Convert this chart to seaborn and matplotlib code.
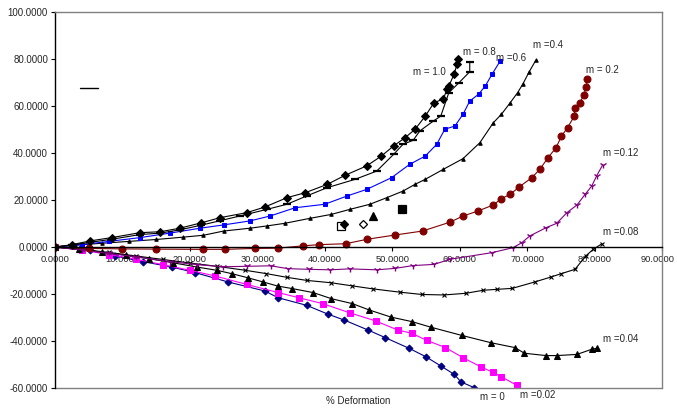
import matplotlib
matplotlib.use("Agg")
import matplotlib.pyplot as plt
from matplotlib.lines import Line2D
from matplotlib.ticker import FormatStrFormatter, MultipleLocator
from matplotlib.transforms import ScaledTranslation
import seaborn as sns

# Ring-compression calibration curves: % change in internal diameter vs % deformation
m0_x = [0, 5.2, 8.9, 13.0, 17.3, 20.8, 25.7, 31.1, 33.1, 37.3, 40.5, 42.9, 46.4, 49.0, 52.5, 55.0, 57.2, 59.2, 60.2, 62.2]
m0_y = [0, -1.3, -3.8, -6.2, -8.5, -10.9, -14.9, -18.7, -21.6, -24.8, -28.6, -31.1, -35.3, -38.6, -43.1, -46.7, -50.6, -54.2, -57.4, -59.9]

m002_x = [0, 4, 8, 12, 16, 20, 23.7, 28.4, 33.1, 36.2, 39.7, 43.7, 47.6, 50.8, 52.9, 55.1, 57.9, 60.5, 63.1, 64.9, 66.2, 68.5]
m002_y = [0, -1.3, -3.2, -5.2, -7.5, -9.9, -12.3, -15.9, -19.4, -21.6, -24.1, -28.0, -31.5, -35.3, -36.7, -39.7, -42.8, -47.1, -50.9, -53.3, -55.2, -58.9]

m004_x = [0, 3.5, 7, 10.6, 14, 17.5, 21.0, 24.0, 26.3, 28.6, 30.9, 33.0, 35.2, 38.3, 41.0, 44.1, 46.6, 49.8, 53.0, 55.7, 60.3, 64.6, 68.2, 69.6, 72.8, 74.4, 77.4, 79.6, 80.3]
m004_y = [0, -1.0, -2.2, -3.5, -5.0, -6.7, -8.5, -9.9, -11.4, -13.1, -14.9, -16.6, -17.7, -19.4, -22.0, -24.1, -26.8, -29.8, -31.8, -34.1, -37.6, -40.7, -42.8, -45.2, -46.2, -46.2, -45.7, -43.5, -43.1]

m008_x = [0, 4, 8, 12, 16, 20, 24, 28.2, 31.3, 34.4, 37.3, 40.9, 44.0, 47.1, 51.1, 54.4, 57.7, 60.9, 63.5, 65.6, 67.8, 71.1, 73.5, 75.0, 77.1, 78.7, 79.8, 81.1]
m008_y = [0, -1.0, -2.3, -3.8, -5.3, -6.8, -8.2, -9.9, -11.3, -12.9, -14.2, -15.2, -16.5, -17.8, -19.2, -20.2, -20.4, -19.7, -18.4, -18.0, -17.6, -14.9, -12.8, -11.4, -9.5, -3.8, -1.0, 1.4]

m012_x = [0, 4, 8, 12, 17, 21, 24.9, 28.5, 32.0, 34.5, 37.7, 40.8, 43.7, 47.7, 50.4, 53.1, 56.2, 58.6, 64.8, 67.9, 69.2, 70.4, 72.8, 74.4, 75.9, 77.4, 78.6, 79.6, 80.3, 81.2]
m012_y = [0, -1.3, -2.7, -4.2, -6.2, -7.5, -8.4, -8.2, -8.0, -9.2, -9.5, -9.7, -9.3, -9.7, -9.1, -7.9, -7.4, -5.2, -2.4, -0.3, 1.8, 4.7, 8.2, 10.1, 14.6, 17.9, 22.4, 26.0, 30.2, 34.9]

m02_x = [0, 5, 10, 15, 22.0, 25.2, 29.6, 33.0, 36.8, 39.1, 43.1, 46.3, 50.4, 54.5, 58.6, 60.5, 62.7, 65.0, 66.2, 67.5, 68.8, 70.7, 71.9, 73.1, 74.3, 75.1, 76.0, 77.0, 77.1, 77.8, 78.4, 78.8, 78.9]
m02_y = [0, -0.6, -0.8, -0.9, -1.0, -1.0, -0.6, -0.5, 0.5, 1.0, 1.4, 3.3, 5.1, 6.8, 10.6, 13.2, 15.3, 17.9, 20.6, 22.4, 25.5, 29.5, 33.1, 38.0, 42.3, 47.2, 50.8, 55.7, 59.3, 61.1, 64.7, 68.2, 71.4]

m04_x = [0, 3, 7, 11, 15, 19, 22.0, 25.0, 28.9, 31.5, 34.1, 37.8, 41.0, 43.7, 46.7, 49.2, 51.6, 53.4, 54.9, 57.6, 60.5, 63.0, 65.0, 66.2, 67.5, 68.6, 69.4, 70.3, 71.3]
m04_y = [0, 0.8, 1.6, 2.4, 3.2, 4.2, 5.0, 6.8, 8.0, 9.0, 10.1, 12.2, 13.9, 16.0, 18.2, 21.0, 23.8, 26.7, 28.8, 33.1, 37.6, 44.4, 52.9, 56.5, 61.4, 65.7, 69.5, 74.5, 79.5]

m06_x = [0, 4, 8, 12.6, 17, 21.5, 25, 28.9, 31.9, 35.6, 40.0, 43.3, 46.2, 49.9, 52.6, 54.9, 56.6, 57.8, 59.3, 60.5, 61.5, 62.8, 63.8, 64.8, 66.0]
m06_y = [0, 1.0, 2.4, 4.0, 5.9, 8.0, 9.4, 11.1, 13.2, 16.7, 18.2, 21.7, 24.5, 29.5, 35.2, 38.7, 43.7, 50.1, 51.5, 56.5, 62.1, 65.0, 68.5, 73.5, 79.1]

m08_x = [0, 2.5, 5.2, 8.4, 12.6, 15.6, 18.5, 21.7, 24.5, 27.4, 31.4, 34.4, 37.3, 40.3, 44.5, 47.7, 50.2, 51.6, 53.1, 54.1, 56.1, 57.2, 58.4, 59.9, 61.5, 61.5]
m08_y = [0, 0.8, 2.0, 3.3, 5.3, 5.9, 7.3, 9.3, 11.2, 13.2, 16.0, 18.2, 21.7, 25.2, 28.8, 32.3, 39.4, 43.7, 45.4, 49.4, 53.6, 55.7, 65.7, 69.9, 74.6, 78.9]

m10_x = [0, 2.5, 5.2, 8.4, 12.6, 15.6, 18.5, 21.7, 24.5, 28.4, 31.1, 34.4, 37.1, 40.4, 43.0, 46.2, 48.4, 50.2, 51.9, 53.4, 54.9, 56.2, 57.6, 58.1, 58.4, 59.2, 59.6, 59.7]
m10_y = [0, 1.0, 2.6, 4.0, 6.1, 6.5, 8.0, 10.3, 12.5, 14.6, 17.0, 21.0, 23.1, 26.7, 30.5, 34.5, 38.7, 43.0, 46.5, 50.1, 55.7, 61.4, 63.0, 67.1, 68.5, 73.7, 77.7, 79.9]

# Measured test specimens
exp_x = [42.4, 42.9, 45.6, 47.1, 51.4]
exp_y = [8.9, 9.6, 9.6, 13.2, 16.0]

curve_labels = ["m = 1.0", "m = 0.8", "m =0.6", "m =0.4", "m = 0.2",
                "m =0.12", "m =0.08", "m =0.04", "m = 0", "m =0.02"]
label_x = [53.1, 60.5, 65.4, 70.9, 78.8, 81.3, 81.2, 81.3, 63.0, 69.0]
label_y = [74.5, 83.1, 80.4, 86.0, 75.2, 40.1, 6.5, -39.3, -63.7, -63.0]

x_ticks = list(range(0, 91, 10))
y_ticks = list(range(-60, 101, 20))

sns.set_style("white")
plt.rcParams["font.family"] = ["Liberation Sans", "DejaVu Sans"]

fig = plt.figure(figsize=(6.77, 4.13), dpi=100)
ax = fig.add_axes([0.0812, 0.0605, 0.8966, 0.9104])

lw = 0.8
common = dict(ax=ax, estimator=None, sort=False, legend=False,
              linewidth=lw, linestyle="-")

sns.lineplot(x=m0_x, y=m0_y, color="#000080", marker="D", markersize=3.5,
             markeredgecolor="#000080", **common)
sns.lineplot(x=m002_x, y=m002_y, color="#FF00FF", marker="s", markersize=5,
             markeredgecolor="#FF00FF", **common)
sns.lineplot(x=m004_x, y=m004_y, color="black", marker="^", markersize=5,
             markeredgecolor="black", **common)
sns.lineplot(x=m008_x, y=m008_y, color="black", marker="x", markersize=3.5,
             markeredgewidth=0.8, markeredgecolor="black", **common)
sns.lineplot(x=m012_x, y=m012_y, color="#800080", marker="1", markersize=5,
             markeredgewidth=1.0, markeredgecolor="#800080", **common)
sns.lineplot(x=m02_x, y=m02_y, color="#800000", marker="o", markersize=5,
             markeredgecolor="#800000", **common)
sns.lineplot(x=m04_x, y=m04_y, color="black", marker="^", markersize=2.5,
             markeredgecolor="black", **common)
sns.lineplot(x=m06_x, y=m06_y, color="#0000FF", marker="s", markersize=2.3,
             markeredgecolor="#0000FF", **common)
sns.lineplot(x=m08_x, y=m08_y, color="black", marker="_", markersize=6,
             markeredgewidth=1.6, markeredgecolor="black", **common)
sns.lineplot(x=m10_x, y=m10_y, color="black", marker="D", markersize=4,
             markeredgecolor="black", **common)

# Individual specimen markers
exp_markers = ["s", "D", "D", "^", "s"]
exp_faces = ["white", "black", "white", "black", "black"]
exp_sizes = [5.5, 4, 4.5, 5.5, 5.5]
for xv, yv, mk, fc, ms in zip(exp_x, exp_y, exp_markers, exp_faces, exp_sizes):
    ax.plot(xv, yv, linestyle="none", marker=mk, markersize=ms,
            markerfacecolor=fc, markeredgecolor="black", markeredgewidth=0.9)

for txt, tx, ty in zip(curve_labels, label_x, label_y):
    ax.text(tx, ty, txt, fontsize=7, ha="left", va="center", clip_on=False)

ax.set_xlim(0, 90)
ax.set_ylim(-60, 100)
ax.set_xticks(x_ticks)
ax.set_yticks(y_ticks)
ax.xaxis.set_major_formatter(FormatStrFormatter("%.4f"))
ax.yaxis.set_major_formatter(FormatStrFormatter("%.4f"))

# Category axis crosses the value axis at zero
ax.spines["bottom"].set_position(("data", 0))
for side in ("bottom", "left"):
    ax.spines[side].set_color("black")
    ax.spines[side].set_linewidth(1.0)
for side in ("top", "right"):
    ax.spines[side].set_color("#808080")
    ax.spines[side].set_linewidth(1.0)
ax.plot([0, 1], [0, 0], transform=ax.transAxes, color="#808080", lw=1.0, clip_on=False)

ax.tick_params(axis="both", which="major", direction="out", length=3,
               width=0.8, color="black", labelsize=7, pad=2,
               bottom=True, left=True)
ax.tick_params(axis="x", pad=3, labelsize=6.7)

# keep the last category label inside the canvas
last = ax.get_xticklabels()[-1]
last.set_transform(last.get_transform() + ScaledTranslation(-3 / 72, 0, fig.dpi_scale_trans))

ax.set_xlabel("% Deformation", fontsize=7)
ax.xaxis.set_label_coords(0.499, -0.022)
ax.set_ylabel("")

leg = ax.legend(handles=[Line2D([], [], color="black", lw=1.0)], labels=[""],
                loc="center left", bbox_to_anchor=(0.041, 0.795), frameon=False,
                borderpad=0, borderaxespad=0, handlelength=1.75, fontsize=7.5)

fig.savefig("out.png", dpi=100, facecolor="white")
